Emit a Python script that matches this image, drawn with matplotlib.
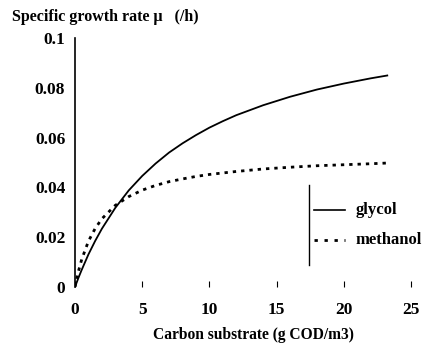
import matplotlib.pyplot as plt

# Substrat-Konzentration (g COD/m3) und Wachstumsraten (/h)
substrate = [0, 0.25, 0.5, 1, 1.5, 2, 3, 4, 5, 6, 7, 8, 9, 10, 11, 12, 14, 16, 18, 20, 22, 23.3]
glycol = [0, 0.0036, 0.0069, 0.0131, 0.0185, 0.0234, 0.0318, 0.0388, 0.0446, 0.0496,
          0.0540, 0.0577, 0.0610, 0.0640, 0.0666, 0.0690, 0.0730, 0.0764, 0.0793, 0.0817,
          0.0838, 0.0850]
methanol = [0, 0.0062, 0.0111, 0.0184, 0.0235, 0.0274, 0.0328, 0.0363, 0.0389, 0.0408,
            0.0423, 0.0434, 0.0444, 0.0452, 0.0458, 0.0464, 0.0474, 0.0481, 0.0487, 0.0491,
            0.0495, 0.0498]

x_ticks = [0, 5, 10, 15, 20, 25]
y_ticks = [0, 0.02, 0.04, 0.06, 0.08, 0.1]
y_labels = ["0", "0.02", "0.04", "0.06", "0.08", "0.1"]

font = {"family": "Liberation Serif", "weight": "bold"}
plt.rcParams["font.family"] = "Liberation Serif"
plt.rcParams["font.weight"] = "bold"

fig = plt.figure(figsize=(4.3, 3.43), dpi=100)
ax = fig.add_axes([75 / 430, 1 - 287 / 343, 336 / 430, 249 / 343])

ax.plot(substrate, glycol, color="black", lw=1.3, solid_capstyle="butt")
ax.plot(substrate, methanol, color="black", lw=2.0, linestyle=(0, (1.2, 1.8)))

ax.set_xlim(0, 25)
ax.set_ylim(0, 0.1)
ax.set_xticks(x_ticks)
ax.set_xticklabels([str(t) for t in x_ticks], fontsize=12.5, **font)
ax.set_yticks(y_ticks)
ax.set_yticklabels(y_labels, fontsize=12.5, **font)
ax.tick_params(axis="x", direction="in", length=4, width=0.8, pad=11)
ax.tick_params(axis="y", length=0, pad=7)

for s in ["top", "right", "bottom"]:
    ax.spines[s].set_visible(False)
ax.spines["left"].set_linewidth(1.2)

# Legende von Hand
ax.plot([0.695, 0.695], [0.09, 0.41], transform=ax.transAxes, color="black", lw=1.0)
ax.plot([0.71, 0.805], [0.31, 0.31], transform=ax.transAxes, color="black", lw=1.2)
ax.plot([0.71, 0.805], [0.19, 0.19], transform=ax.transAxes, color="black", lw=2.0,
        linestyle=(0, (1.2, 2.4)))
ax.text(0.835, 0.31, "glycol", transform=ax.transAxes, va="center", fontsize=12, **font)
ax.text(0.835, 0.19, "methanol", transform=ax.transAxes, va="center", fontsize=12, **font)

fig.text(12 / 430, 1 - 17 / 343, "Specific growth rate \u03bc   (/h)", va="center",
         fontsize=11.5, **font)
fig.text(253 / 430, 1 - 335 / 343, "Carbon substrate (g COD/m3)", ha="center",
         va="center", fontsize=11.2, **font)

fig.savefig("out.png", dpi=100)
